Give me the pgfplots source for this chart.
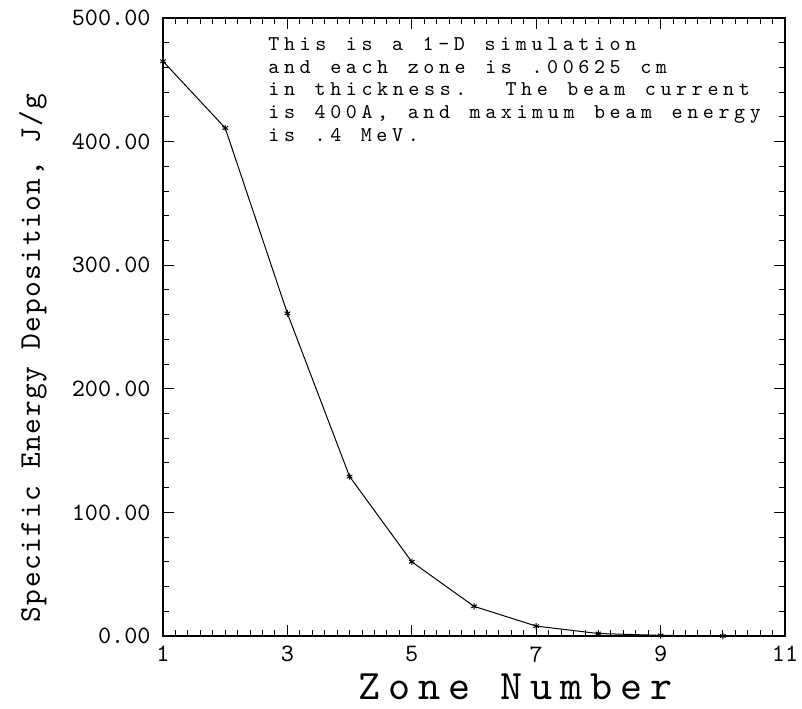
\documentclass[border=0pt]{standalone}
\usepackage{fontspec}
\usepackage{pgfplots}
\pgfplotsset{compat=1.18}
\newfontfamily\tickfont{lmmono10-regular.otf}
\newfontfamily\annfont[LetterSpace=22,WordSpace=1.25]{lmmono10-regular.otf}
\newfontfamily\xlabfont[LetterSpace=19]{lmmono10-regular.otf}
\newfontfamily\ylabfont[LetterSpace=5]{lmmono10-regular.otf}
\begin{document}
\begin{tikzpicture}
\begin{axis}[
  scale only axis,
  width=311pt, height=309pt,
  xmin=1, xmax=11, ymin=0, ymax=500,
  xtick={1,3,5,7,9,11},
  ytick={0,100,200,300,400,500},
  minor x tick num=9,
  minor y tick num=4,
  tick align=inside,
  major tick length=5.5pt,
  minor tick length=3pt,
  axis line style={line width=0.8pt},
  every tick/.style={black, line width=0.5pt},
  /pgf/number format/assume math mode=true,
  tick label style={font=\tickfont\fontsize{12.5}{14}\selectfont},
  yticklabel style={/pgf/number format/fixed, /pgf/number format/fixed zerofill, /pgf/number format/precision=2, inner sep=0pt, xshift=-6pt},
  xticklabel style={inner sep=0pt, anchor=north, yshift=-5pt},
  xlabel={Zone Number},
  ylabel={Specific Energy Deposition, J/g},
  xlabel style={at={(axis description cs:0.567,-0.103)}, anchor=base, inner sep=0pt, font=\xlabfont\fontsize{21}{24}\selectfont},
  ylabel style={at={(axis description cs:-0.198,0.45)}, anchor=base, inner sep=0pt, font=\ylabfont\fontsize{15}{17}\selectfont},
]
\addplot[black, line width=0.5pt, mark=asterisk, mark size=1.6pt] coordinates {
  (1,465) (2,411) (3,261) (4,129) (5,60) (6,24) (7,8) (8,2) (9,0.5) (10,0)
};
\node[anchor=north west, inner sep=0pt, align=left,
      font=\annfont\fontsize{10.5}{11.3}\selectfont]
  at (axis description cs:0.1688,0.969)
  {This is a 1-D simulation\\
   and each zone is .00625 cm\\
   in thickness.\ \ The beam current\\
   is 400A, and maximum beam energy\\
   is .4 MeV.};
\end{axis}
\pgfresetboundingbox
\path ([shift={(-81.5pt,-36.5pt)}]current axis.south west) rectangle ([shift={(8.5pt,9pt)}]current axis.north east);
\end{tikzpicture}
\end{document}
